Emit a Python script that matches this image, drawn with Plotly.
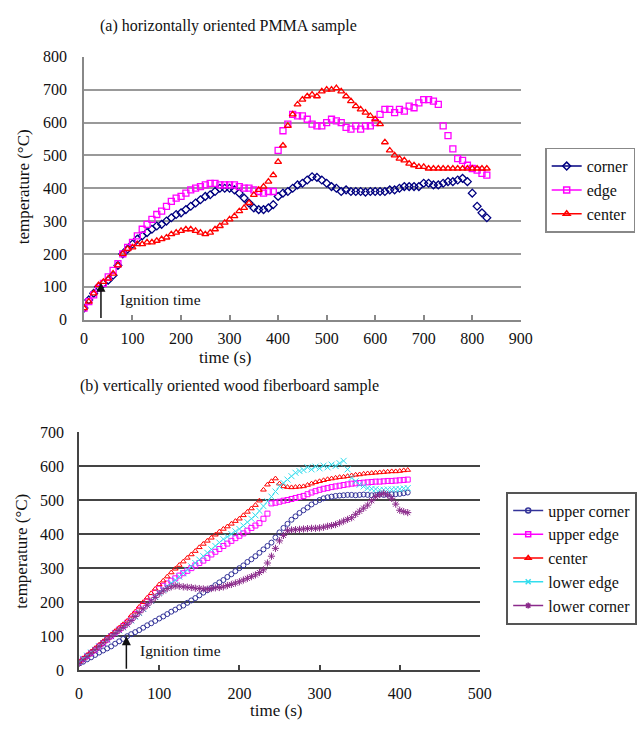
import plotly.graph_objects as go

# ---------------- data: (a) horizontally oriented PMMA sample ----------------
time_a = list(range(0, 840, 10))
corner_a = [35, 60, 80, 100, 110, 120, 135, 165, 200, 215,
            230, 245, 255, 265, 275, 285, 290, 300, 310, 320,
            325, 335, 345, 355, 365, 375, 380, 390, 400, 400,
            400, 395, 385, 370, 355, 340, 335, 335, 340, 350,
            375, 385, 390, 400, 410, 415, 425, 435, 433, 425,
            415, 405, 400, 390, 395, 390, 390, 390, 388, 390,
            390, 390, 390, 395, 395, 400, 405, 405, 405, 405,
            415, 415, 410, 410, 415, 420, 420, 425, 430, 420,
            385, 345, 325, 310]
edge_a = [35, 55, 75, 95, 110, 130, 150, 170, 200, 220,
          235, 255, 275, 290, 305, 320, 330, 345, 360, 370,
          375, 385, 395, 400, 405, 410, 415, 415, 410, 410,
          410, 410, 405, 400, 400, 395, 390, 385, 390, 390,
          515, 575, 595, 625, 620, 620, 610, 595, 590, 590,
          600, 610, 605, 600, 585, 580, 590, 580, 590, 590,
          600, 625, 640, 640, 630, 640, 635, 650, 645, 660,
          670, 670, 665, 655, 590, 560, 520, 490, 485, 470,
          460, 455, 445, 440]
center_a = [35, 55, 80, 105, 115, 125, 140, 165, 200, 215,
            220, 230, 230, 235, 235, 240, 245, 250, 260, 265,
            270, 275, 275, 270, 265, 260, 265, 275, 285, 295,
            305, 315, 330, 340, 355, 380, 395, 405, 420, 440,
            480, 530, 590, 625, 655, 670, 680, 685, 680, 695,
            700, 700, 705, 695, 680, 665, 650, 640, 630, 620,
            610, 595, 540, 515, 500, 490, 485, 475, 470, 465,
            465, 460, 460, 460, 460, 460, 460, 460, 460, 460,
            460, 460, 460, 460]

# ---------------- data: (b) vertically oriented wood fiberboard sample ----------------
time_b = list(range(0, 415, 5))
upper_corner_b = [20, 25, 32, 38, 45, 52, 58, 64, 70, 78,
                  85, 92, 100, 106, 112, 118, 125, 132, 138, 145,
                  152, 158, 165, 172, 178, 185, 190, 198, 205, 212,
                  220, 228, 235, 242, 250, 258, 265, 274, 282, 291,
                  300, 308, 318, 326, 335, 345, 355, 365, 375, 390,
                  405, 418, 430, 442, 452, 462, 470, 478, 487, 494,
                  500, 505, 508, 510, 512, 513, 514, 515, 515, 514,
                  515, 516, 515, 514, 515, 516, 515, 516, 517, 517,
                  518, 520, 522]
upper_edge_b = [25, 33, 42, 51, 60, 70, 80, 90, 100, 110,
                120, 130, 140, 152, 165, 178, 190, 202, 215, 228,
                240, 248, 255, 263, 270, 278, 285, 292, 300, 308,
                315, 322, 330, 340, 348, 356, 365, 372, 380, 388,
                395, 402, 410, 418, 425, 432, 445, 460, 490, 492,
                495, 498, 500, 503, 506, 509, 512, 517, 522, 526,
                530, 533, 535, 538, 540, 542, 544, 546, 548, 549,
                550, 551, 552, 553, 554, 554, 555, 556, 556, 557,
                558, 559, 560]
center_b = [25, 35, 45, 55, 65, 75, 85, 95, 105, 115,
            125, 135, 145, 160, 172, 186, 200, 213, 226, 239,
            252, 263, 275, 287, 298, 309, 319, 330, 340, 350,
            361, 371, 380, 389, 398, 407, 415, 422, 430, 438,
            445, 455, 465, 475, 485, 498, 530, 545, 555, 563,
            548, 540, 538, 537, 538, 539, 540, 544, 548, 552,
            555, 558, 561, 563, 565, 567, 568, 570, 572, 574,
            575, 577, 578, 579, 580, 581, 582, 583, 584, 584,
            585, 587, 588]
lower_edge_b = [25, 34, 43, 52, 60, 70, 80, 90, 100, 108,
                117, 126, 135, 146, 157, 168, 180, 192, 204, 216,
                228, 237, 246, 256, 265, 275, 285, 295, 305, 315,
                325, 335, 345, 355, 365, 375, 385, 392, 400, 408,
                415, 425, 435, 445, 455, 468, 482, 496, 510, 525,
                540, 550, 560, 570, 580, 585, 588, 596, 590, 598,
                593, 601, 596, 604, 600, 608, 615, 590, 565, 555,
                545, 540, 535, 533, 532, 530, 530, 531, 531, 532,
                532, 534, 535]
lower_corner_b = [20, 30, 40, 50, 60, 70, 80, 90, 100, 108,
                  117, 126, 135, 146, 158, 169, 180, 191, 203, 214,
                  225, 233, 240, 245, 248, 247, 245, 244, 243, 241,
                  240, 239, 238, 240, 242, 243, 245, 249, 252, 256,
                  260, 265, 270, 275, 280, 287, 295, 315, 335, 358,
                  380, 396, 410, 412, 413, 414, 415, 416, 417, 417,
                  418, 420, 423, 425, 428, 433, 438, 443, 448, 458,
                  467, 476, 485, 498, 510, 516, 520, 515, 505, 488,
                  470, 466, 463]

names_a = ["corner", "edge", "center"]
names_b = ["upper corner", "upper edge", "center", "lower edge", "lower corner"]
ignition_a = 35
ignition_b = 59

# ---------------- styling ----------------
W, H = 643, 732
SERIF = "Liberation Serif, Times New Roman, serif"
TXT = "#111111"


def px(x):
    return x / W


def py(y):
    return 1 - y / H


styles_a = [
    dict(color="#000080", symbol="diamond-open", size=6),
    dict(color="#FF00FF", symbol="square-open", size=6),
    dict(color="#FF0000", symbol="triangle-up-open", size=6),
]
styles_b = [
    dict(color="#333399", symbol="circle-open", size=5),
    dict(color="#FF00FF", symbol="square-open", size=5),
    dict(color="#FF0000", symbol="triangle-up-open", size=5),
    dict(color="#33DDEE", symbol="x-thin-open", size=6),
    dict(color="#8B2A8B", symbol="asterisk-open", size=6),
]

fig = go.Figure()

series_a = [corner_a, edge_a, center_a]
for name, vals, st in zip(names_a, series_a, styles_a):
    fig.add_trace(go.Scatter(
        x=time_a, y=vals, mode="markers", name=name, showlegend=False,
        xaxis="x", yaxis="y",
        marker=dict(symbol=st["symbol"], size=st["size"], color=st["color"],
                    line=dict(color=st["color"], width=1.3)),
    ))
for name, st in zip(names_a, styles_a):
    fig.add_trace(go.Scatter(
        x=[None], y=[None], mode="lines+markers", name=name, legend="legend",
        legendgroup="a_" + name, xaxis="x", yaxis="y",
        line=dict(color=st["color"], width=1.5),
        marker=dict(symbol=st["symbol"], size=6, color=st["color"],
                    line=dict(color=st["color"], width=1.5)),
    ))

series_b = [upper_corner_b, upper_edge_b, center_b, lower_edge_b, lower_corner_b]
for name, vals, st in zip(names_b, series_b, styles_b):
    fig.add_trace(go.Scatter(
        x=time_b, y=vals, mode="markers", name=name, showlegend=False,
        xaxis="x2", yaxis="y2",
        marker=dict(symbol=st["symbol"], size=st["size"], color=st["color"],
                    line=dict(color=st["color"], width=1)),
    ))
for name, st in zip(names_b, styles_b):
    fig.add_trace(go.Scatter(
        x=[None], y=[None], mode="lines+markers", name=name, legend="legend2",
        legendgroup="b_" + name, xaxis="x2", yaxis="y2",
        line=dict(color=st["color"], width=1.5),
        marker=dict(symbol=st["symbol"], size=5, color=st["color"],
                    line=dict(color=st["color"], width=1.5)),
    ))

tickfont = dict(family=SERIF, size=16, color=TXT)

fig.update_layout(
    width=W, height=H,
    margin=dict(l=0, r=0, t=0, b=0),
    paper_bgcolor="white", plot_bgcolor="white",
    font=dict(family=SERIF, size=16, color=TXT),
    xaxis=dict(domain=[px(82), px(530)], range=[0, 900], tick0=0, dtick=100,
               ticks="inside", ticklen=5, tickcolor="#888888", tickwidth=1.5,
               showline=True, linecolor="#888888", linewidth=1.5,
               showgrid=False, zeroline=False, anchor="y",
               tickfont=tickfont, ticklabelstandoff=3),
    yaxis=dict(domain=[py(319), py(50)], range=[0, 800], tick0=0, dtick=100,
               ticks="", showline=True, linecolor="#888888", linewidth=1.5,
               showgrid=True, gridcolor="#999999", gridwidth=1.5,
               zeroline=False, anchor="x", tickfont=tickfont,
               ticklabelstandoff=12),
    xaxis2=dict(domain=[px(77), px(488)], range=[0, 500], tick0=0, dtick=100,
                ticks="inside", ticklen=5, tickcolor="#444444", tickwidth=1.5,
                showline=True, linecolor="#444444", linewidth=2,
                showgrid=False, zeroline=False, anchor="y2",
                tickfont=tickfont, ticklabelstandoff=8),
    yaxis2=dict(domain=[py(678), py(434)], range=[0, 700], tick0=0, dtick=100,
                ticks="", showline=True, linecolor="#444444", linewidth=2,
                showgrid=True, gridcolor="#444444", gridwidth=2,
                zeroline=False, anchor="x2", tickfont=tickfont,
                ticklabelstandoff=10),
    legend=dict(x=px(555), y=py(143), xanchor="left", yanchor="top",
                bgcolor="white", bordercolor="#888888", borderwidth=1.5,
                font=dict(family=SERIF, size=16, color=TXT),
                tracegroupgap=5, traceorder="normal"),
    legend2=dict(x=px(515), y=py(495), xanchor="left", yanchor="top",
                 bgcolor="white", bordercolor="#555555", borderwidth=2,
                 font=dict(family=SERIF, size=16, color=TXT),
                 tracegroupgap=3, traceorder="normal"),
)

annotations = [
    dict(text="(a) horizontally oriented PMMA sample", x=px(230), y=py(18),
         xref="paper", yref="paper", showarrow=False, xanchor="center",
         yanchor="middle", font=dict(family=SERIF, size=16, color=TXT)),
    dict(text="(b) vertically oriented wood fiberboard sample", x=px(231), y=py(387),
         xref="paper", yref="paper", showarrow=False, xanchor="center",
         yanchor="middle", font=dict(family=SERIF, size=16, color=TXT)),
    dict(text="time (s)", x=px(227), y=py(358), xref="paper", yref="paper",
         showarrow=False, xanchor="center", yanchor="middle",
         font=dict(family=SERIF, size=17, color=TXT)),
    dict(text="time (s)", x=px(279), y=py(719), xref="paper", yref="paper",
         showarrow=False, xanchor="center", yanchor="middle",
         font=dict(family=SERIF, size=17, color=TXT)),
    dict(text="temperature (°C)", x=px(20), y=py(183), xref="paper", yref="paper",
         showarrow=False, xanchor="center", yanchor="middle", textangle=-90,
         font=dict(family=SERIF, size=17, color=TXT)),
    dict(text="temperature (°C)", x=px(18), y=py(556), xref="paper", yref="paper",
         showarrow=False, xanchor="center", yanchor="middle", textangle=-90,
         font=dict(family=SERIF, size=17, color=TXT)),
    # ignition arrows
    dict(x=ignition_a, y=112, ax=ignition_a, ay=0, xref="x", yref="y",
         axref="x", ayref="y", text="", showarrow=True, arrowhead=2,
         arrowsize=1.2, arrowwidth=1.5, arrowcolor="#111111", standoff=0),
    dict(text="Ignition time", x=70, y=62, xref="x", yref="y", showarrow=False,
         xanchor="left", yanchor="middle",
         font=dict(family=SERIF, size=15.5, color=TXT)),
    dict(x=ignition_b, y=100, ax=ignition_b, ay=0, xref="x2", yref="y2",
         axref="x2", ayref="y2", text="", showarrow=True, arrowhead=2,
         arrowsize=1.2, arrowwidth=1.5, arrowcolor="#111111", standoff=0),
    dict(text="Ignition time", x=74, y=57, xref="x2", yref="y2", showarrow=False,
         xanchor="left", yanchor="middle",
         font=dict(family=SERIF, size=15.5, color=TXT)),
]
fig.update_layout(annotations=annotations)

fig.write_html("out.html")
